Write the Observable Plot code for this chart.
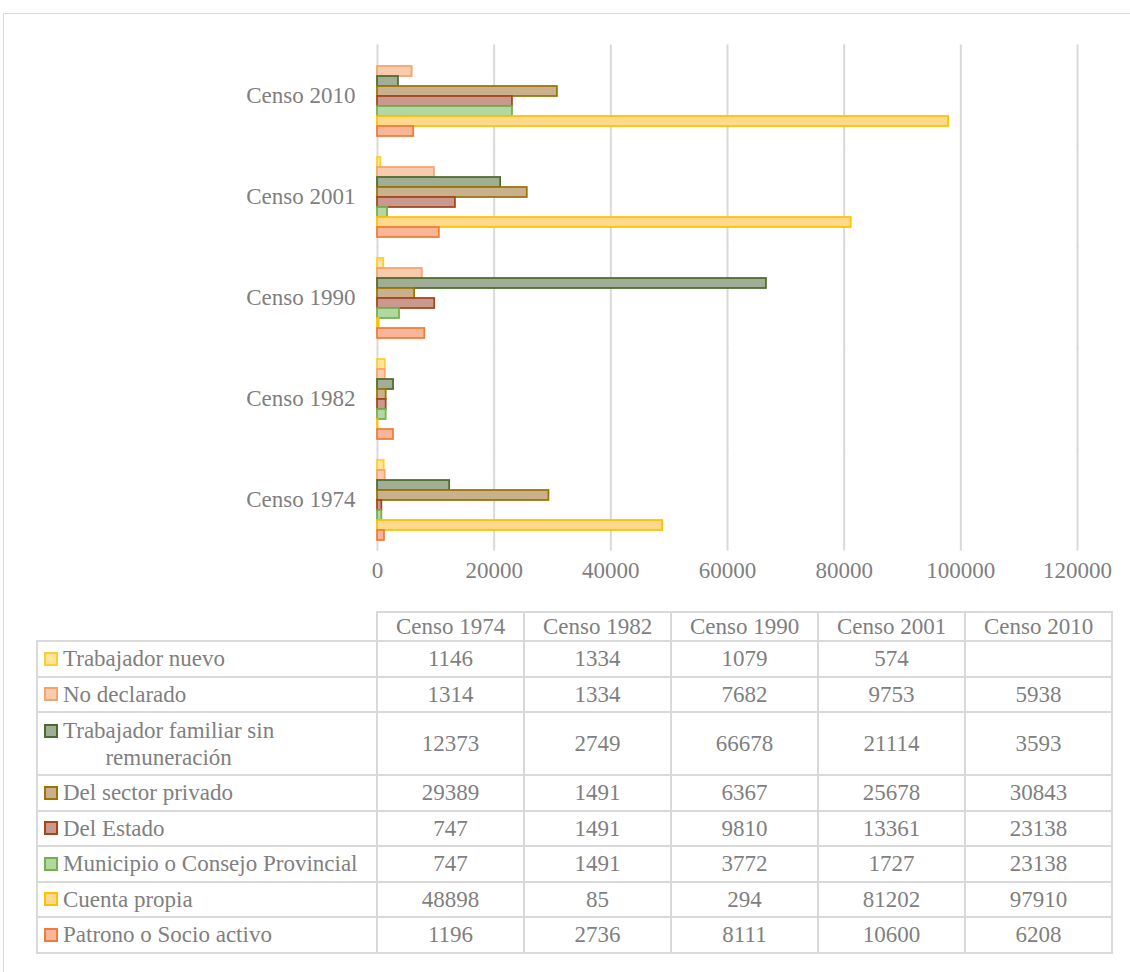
<!DOCTYPE html>
<html>
<head>
<meta charset="utf-8">
<script src="https://cdn.jsdelivr.net/npm/d3@7"></script>
<script src="https://cdn.jsdelivr.net/npm/@observablehq/plot@0.6"></script>
<style>
html, body { margin: 0; padding: 0; background: #fff; overflow: hidden; }
#wrap { position: relative; width: 1130px; height: 972px; overflow: hidden;
  font-family: "Liberation Serif", Tinos, "DejaVu Serif", serif; color: #7f7f7f; }
#frame { position: absolute; left: 3px; top: 13px; width: 1300px; height: 1100px;
  border: 1.5px solid #d9d9d9; box-sizing: border-box; }
#chart { position: absolute; left: 0; top: 0; }
#tbl { position: absolute; left: 36px; top: 611px; border-collapse: collapse;
  table-layout: fixed; width: 1077px; font-size: 23px; color: #7f7f7f; }
#tbl td { border: 2px solid #d9d9d9; padding: 0; text-align: center; vertical-align: middle;
  line-height: 27px; white-space: nowrap; overflow: hidden; }
#tbl td.corner { border-top: none; border-left: none; }
#tbl td.lab { text-align: left; }
.labin { display: flex; align-items: center; }
.labin.multi { align-items: flex-start; }
.sq { display: inline-block; width: 14px; height: 14px; box-sizing: border-box; border: 2px solid;
  margin-left: 6px; margin-right: 5px; flex: none; }
.multi .sq { margin-top: 7px; }
.multi .txt { text-align: center; }
</style>
</head>
<body>
<div id="wrap">
  <div id="frame"></div>
  <div id="chart"></div>
  <table id="tbl"></table>
</div>
<script>
// ---- Data ----
const censuses = ["Censo 1974", "Censo 1982", "Censo 1990", "Censo 2001", "Censo 2010"];
const seriesNames = [
  "Trabajador nuevo",
  "No declarado",
  "Trabajador familiar sin remuneración",
  "Del sector privado",
  "Del Estado",
  "Municipio o Consejo Provincial",
  "Cuenta propia",
  "Patrono o Socio activo"
];
const trabajadorNuevo    = [1146, 1334, 1079, 574, null];
const noDeclarado        = [1314, 1334, 7682, 9753, 5938];
const trabajadorFamiliar = [12373, 2749, 66678, 21114, 3593];
const sectorPrivado      = [29389, 1491, 6367, 25678, 30843];
const delEstado          = [747, 1491, 9810, 13361, 23138];
const municipio          = [747, 1491, 3772, 1727, 23138];
const cuentaPropia       = [48898, 85, 294, 81202, 97910];
const patrono            = [1196, 2736, 8111, 10600, 6208];
const xTicks = [0, 20000, 40000, 60000, 80000, 100000, 120000];

const seriesValues = [trabajadorNuevo, noDeclarado, trabajadorFamiliar, sectorPrivado,
  delEstado, municipio, cuentaPropia, patrono];

const fills = {
  "Trabajador nuevo": "#ffe599",
  "No declarado": "#f8cbad",
  "Trabajador familiar sin remuneración": "#9fae95",
  "Del sector privado": "#c9b18f",
  "Del Estado": "#c9998f",
  "Municipio o Consejo Provincial": "#b3d7a0",
  "Cuenta propia": "#ffd98c",
  "Patrono o Socio activo": "#f8b598"
};
const strokes = {
  "Trabajador nuevo": "#ffcc33",
  "No declarado": "#f4a46c",
  "Trabajador familiar sin remuneración": "#4e6b2e",
  "Del sector privado": "#9c7400",
  "Del Estado": "#a4461a",
  "Municipio o Consejo Provincial": "#74b04b",
  "Cuenta propia": "#ffc000",
  "Patrono o Socio activo": "#ef7d3a"
};

const rows = censuses.flatMap((c, i) =>
  seriesNames.map((s, j) => ({ census: c, series: s, value: seriesValues[j][i] })));

// ---- Chart ----
const chart = Plot.plot({
  width: 1130,
  height: 600,
  marginLeft: 377,
  marginRight: 53,
  marginTop: 44,
  marginBottom: 48,
  style: { fontFamily: '"Liberation Serif", Tinos, "DejaVu Serif", serif', fontSize: "23px",
    color: "#7f7f7f", background: "transparent", overflow: "visible" },
  facet: { data: rows, y: "census" },
  fy: { domain: censuses.slice().reverse(), paddingInner: 0.157, paddingOuter: 0.0785,
    label: null, axis: "left", tickSize: 0, tickPadding: 22 },
  x: { domain: [0, 120000], ticks: xTicks, tickFormat: "d", tickSize: 0, tickPadding: 19, label: null },
  y: { domain: seriesNames, axis: null, padding: 0 },
  color: { type: "identity" },
  marks: [
    Plot.ruleX(xTicks, { stroke: "#d9d9d9", strokeWidth: 2, insetTop: -8.6, insetBottom: -8.6 }),
    Plot.barX(rows, {
      filter: d => d.value != null,
      x: "value",
      y: "series",
      fill: d => fills[d.series],
      stroke: d => strokes[d.series],
      strokeWidth: 1.75
    })
  ]
});
document.getElementById("chart").appendChild(chart);

// ---- Data table ----
const tbl = document.getElementById("tbl");
const colgroup = document.createElement("colgroup");
[340, 147, 147, 147, 147, 147].forEach(w => {
  const col = document.createElement("col");
  col.style.width = w + "px";
  colgroup.appendChild(col);
});
tbl.appendChild(colgroup);

const head = document.createElement("tr");
head.style.height = "26px";
const corner = document.createElement("td");
corner.className = "corner";
head.appendChild(corner);
censuses.forEach(c => {
  const td = document.createElement("td");
  td.textContent = c;
  head.appendChild(td);
});
tbl.appendChild(head);

seriesNames.forEach((s, j) => {
  const tr = document.createElement("tr");
  const multi = s === "Trabajador familiar sin remuneración";
  tr.style.height = multi ? "63px" : "35.5px";
  const lab = document.createElement("td");
  lab.className = "lab";
  const inner = document.createElement("div");
  inner.className = "labin" + (multi ? " multi" : "");
  const sq = document.createElement("span");
  sq.className = "sq";
  sq.style.background = fills[s];
  sq.style.borderColor = strokes[s];
  const txt = document.createElement("span");
  txt.className = "txt";
  if (multi) {
    txt.innerHTML = "Trabajador familiar sin<br>remuneración";
  } else {
    txt.textContent = s;
  }
  inner.appendChild(sq);
  inner.appendChild(txt);
  lab.appendChild(inner);
  tr.appendChild(lab);
  seriesValues[j].forEach(v => {
    const td = document.createElement("td");
    td.textContent = v == null ? "" : String(v);
    tr.appendChild(td);
  });
  tbl.appendChild(tr);
});
</script>
</body>
</html>
